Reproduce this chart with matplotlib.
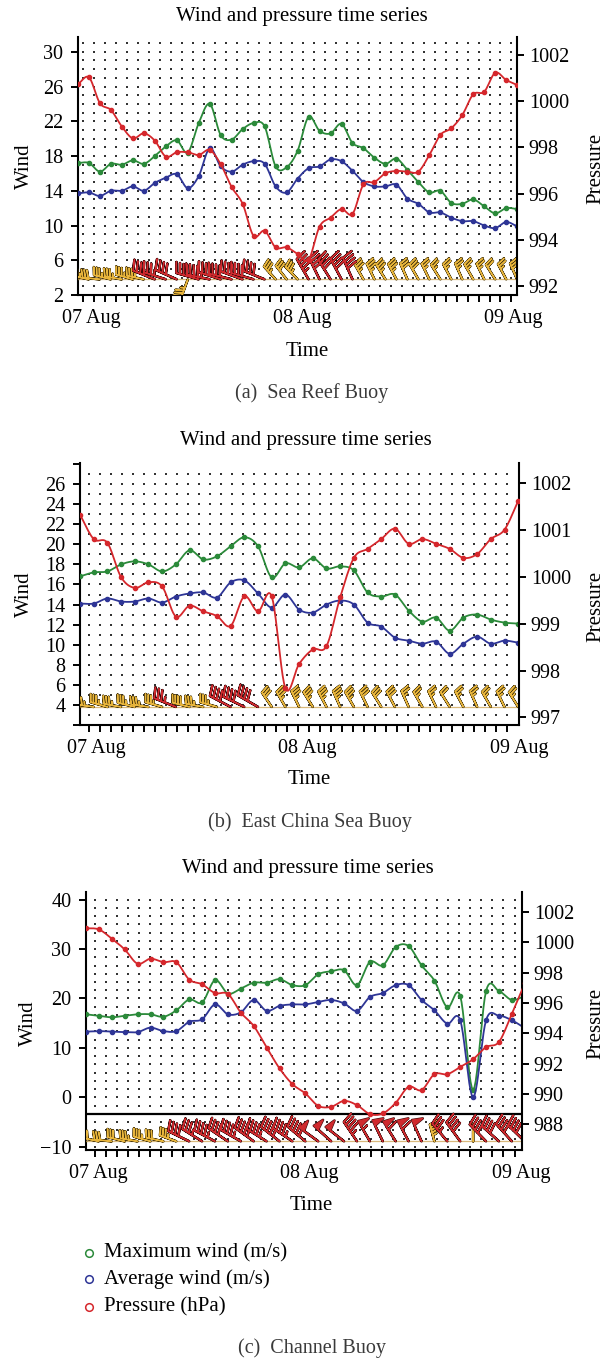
import numpy as np
import matplotlib.pyplot as plt
from matplotlib.lines import Line2D

plt.rcParams['font.family'] = ['Liberation Serif', 'DejaVu Serif']

W, H = 612, 1361
GREEN, BLUE, RED = '#2b8a3a', '#2e3596', '#d5272c'
GOLD, GOLD_EDGE = '#e8b53c', '#4d3a0c'
HOT, HOT_EDGE = '#cf2a2e', '#3f0a0a'

# ---------------- (a) Sea Reef Buoy ----------------
a_max = [17.2, 17.2, 16.2, 17.1, 17.0, 17.5, 17.1, 18.0, 19.1, 19.8, 18.4,
         21.8, 24.0, 20.4, 19.9, 21.1, 21.8, 21.4, 16.8, 16.7, 18.6, 22.5,
         20.9, 20.6, 21.7, 19.5, 18.9, 17.8, 17.1, 17.7, 16.4, 15.0, 13.8,
         14.0, 12.6, 12.5, 13.0, 12.2, 11.4, 12.0, 11.9]
a_avg = [13.7, 13.8, 13.4, 14.0, 14.0, 14.5, 14.0, 14.9, 15.5, 15.9, 14.3,
         15.7, 18.9, 16.8, 16.2, 17.0, 17.4, 17.1, 14.5, 13.8, 15.4, 16.6,
         16.8, 17.6, 17.4, 16.3, 15.0, 14.5, 14.5, 14.7, 13.1, 12.5, 11.5,
         11.5, 10.9, 10.5, 10.5, 10.0, 9.7, 10.4, 9.9]
a_pres = [1000.74, 1001.03, 999.91, 999.62, 998.90, 998.39, 998.61, 998.29,
          997.60, 997.79, 997.79, 997.67, 997.89, 997.27, 996.28, 995.55,
          994.16, 994.39, 993.67, 993.67, 993.39, 993.13, 994.57, 994.96,
          995.33, 995.12, 996.40, 996.50, 996.88, 996.98, 996.95, 996.95,
          997.67, 998.54, 998.83, 999.40, 1000.30, 1000.41, 1001.23, 1000.92,
          1000.70]
a_dir = [278, 282, 276, 284, 280, 286, 282, 292, 288, 294, 200,
         286, 282, 288, 284, 290, 286, 292, 318, 322, 316, 330,
         334, 328, 332, 336, 330, 334, 328, 332, 336, 330, 334,
         328, 332, 336, 330, 334, 328, 332, 336]
a_hot = [0, 0, 0, 0, 0, 0, 0, 1, 1, 1, 0,
         1, 1, 1, 1, 1, 1, 1, 0, 0, 0, 1,
         1, 1, 1, 1, 0, 0, 0, 0, 0, 0, 0,
         0, 0, 0, 0, 0, 0, 0, 0]

# ---------------- (b) East China Sea Buoy ----------------
b_max = [16.8, 17.2, 17.3, 18.0, 18.3, 18.0, 17.3, 18.0, 19.4, 18.5, 18.8,
         19.8, 20.7, 19.8, 16.7, 18.1, 17.7, 18.6, 17.6, 17.8, 17.4, 15.2,
         14.8, 15.0, 13.4, 12.3, 12.7, 11.4, 12.7, 13.0, 12.5, 12.2, 12.1]
b_avg = [14.1, 14.1, 14.6, 14.3, 14.3, 14.6, 14.2, 14.8, 15.1, 15.2, 14.7,
         16.2, 16.4, 15.1, 13.7, 15.0, 13.5, 13.2, 14.0, 14.4, 14.0, 12.2,
         11.8, 10.7, 10.4, 10.1, 10.3, 9.1, 10.1, 10.8, 10.1, 10.4, 10.2]
b_pres = [1001.32, 1000.80, 1000.72, 999.99, 999.76, 999.88, 999.79, 999.15,
          999.38, 999.26, 999.16, 998.95, 999.58, 999.26, 999.58, 997.62,
          998.14, 998.45, 998.52, 999.56, 1000.40, 1000.59, 1000.80, 1001.02,
          1000.70, 1000.80, 1000.70, 1000.59, 1000.40, 1000.48, 1000.80,
          1001.00, 1001.61]
b_dir = [282, 278, 286, 280, 284, 278, 286, 292, 284, 280, 286,
         298, 296, 300, 326, 330, 334, 328, 332, 336, 330, 334,
         328, 332, 336, 330, 334, 328, 332, 336, 330, 334, 328]
b_hot = [0, 0, 0, 0, 0, 0, 0, 1, 0, 0, 0,
         1, 1, 1, 0, 0, 0, 0, 0, 0, 0, 0,
         0, 0, 0, 0, 0, 0, 0, 0, 0, 0, 0]

# ---------------- (c) Channel Buoy ----------------
c_max = [16.8, 16.5, 16.2, 16.5, 16.8, 16.8, 16.3, 17.6, 19.8, 19.2, 23.7,
         21.0, 22.0, 23.2, 23.2, 23.9, 22.7, 22.7, 24.9, 25.5, 25.7, 22.7,
         27.4, 26.7, 30.4, 30.6, 26.7, 23.6, 18.2, 20.5, 1.5, 21.5, 21.5,
         19.7, 20.5]
c_avg = [13.3, 13.4, 13.3, 13.2, 13.2, 14.1, 13.4, 13.4, 15.3, 15.8, 18.8,
         16.8, 17.2, 19.7, 17.5, 18.5, 18.8, 18.8, 19.3, 19.7, 19.0, 17.5,
         20.3, 21.1, 22.7, 22.7, 19.7, 17.6, 14.9, 15.6, 0.0, 15.6, 16.5,
         15.6, 14.0]
c_pres = [1000.94, 1000.86, 1000.25, 999.54, 998.60, 998.93, 998.70, 998.70,
          997.55, 997.24, 996.66, 996.60, 995.37, 994.49, 993.07, 991.69,
          990.65, 990.04, 989.22, 989.16, 989.55, 989.27, 988.68, 988.72,
          989.42, 990.48, 990.26, 991.31, 991.31, 991.79, 992.30, 993.10,
          993.44, 995.30, 997.30]
c_dir = [278, 282, 276, 284, 280, 286, 282, 290, 296, 302, 298,
         304, 300, 306, 302, 308, 304, 310, 306, 312, 308, 326,
         330, 334, 328, 332, 336, 345, 320, 324, 0, 316, 312,
         318, 314]
c_hot = [0, 0, 0, 0, 0, 0, 0, 0, 1, 1, 1,
         1, 1, 1, 1, 1, 1, 1, 1, 1, 1, 1,
         1, 1, 1, 1, 1, 0, 1, 1, 0, 1, 1,
         1, 1]

day_labels = ['07 Aug', '08 Aug', '09 Aug']
day_hours = [0, 24, 48]
legend_labels = ['Maximum wind (m/s)', 'Average wind (m/s)', 'Pressure (hPa)']


def smooth(t, y, k=10):
    # Catmull-Rom curve through the observations
    t = np.asarray(t, float)
    y = np.asarray(y, float)
    yp = np.r_[2 * y[0] - y[1], y, 2 * y[-1] - y[-2]]
    s = np.linspace(0, 1, k, endpoint=False)
    xs, ys = [], []
    for i in range(1, len(t)):
        p0, p1, p2, p3 = yp[i - 1], yp[i], yp[i + 1], yp[i + 2]
        ys.append(0.5 * (2 * p1 + (-p0 + p2) * s
                         + (2 * p0 - 5 * p1 + 4 * p2 - p3) * s ** 2
                         + (-p0 + 3 * p1 - 3 * p2 + p3) * s ** 3))
        xs.append(t[i - 1] + (t[i] - t[i - 1]) * s)
    xs.append([t[-1]])
    ys.append([y[-1]])
    return np.concatenate(xs), np.concatenate(ys)


def box(l, t, r, b):
    return [l / W, 1 - b / H, (r - l) / W, (b - t) / H]


def draw_barbs(ax, t, level, speed, dirs, hot):
    t = np.asarray(t, float)
    kt = np.asarray(speed, float) * 1.944
    d = np.deg2rad(dirs)
    u, v = -kt * np.sin(d), -kt * np.cos(d)
    y = np.full_like(t, level)
    hot = np.asarray(hot, bool)
    for mask, face, edge, ln in ((~hot, GOLD, GOLD_EDGE, 5.0),
                                 (hot, HOT, HOT_EDGE, 5.8)):
        for lw, col in ((1.8, edge), (0.9, face)):
            ax.barbs(t[mask], y[mask], u[mask], v[mask], length=ln,
                     color=col, linewidth=lw, zorder=3,
                     sizes=dict(spacing=0.16, height=0.45, emptybarb=0.1))


panels = [
    dict(t=-1.56 + 1.25 * np.arange(len(a_max)), mx=a_max, av=a_avg, pr=a_pres,
         dirs=a_dir, hot=a_hot, rect=(78, 37, 517, 295),
         xlim=(-1.56, 48.42), ylim=(2, 31.7), plim=(991.61, 1002.78),
         yticks=np.arange(2, 31, 4), ylabels=None,
         pticks=np.arange(992, 1003, 2), rows=np.arange(3, 32, 1.0),
         minor=-0.96 + 1.25 * np.arange(40), level=3.8, divider=None,
         title_y=17, title_x=302, time=(307, 352), wind_xy=(24, 166),
         pres_xy=(596, 168), caption=('(a)  Sea Reef Buoy', 312, 393)),
    dict(t=-1.85 + 1.555 * np.arange(len(b_max)), mx=b_max, av=b_avg, pr=b_pres,
         dirs=b_dir, hot=b_hot, rect=(80, 463, 519, 725),
         xlim=(-1.85, 47.99), ylim=(2, 28.1), plim=(996.84, 1002.42),
         yticks=np.arange(2, 29, 2),
         ylabels=[''] + [str(v) for v in range(4, 27, 2)] + [''],
         pticks=np.arange(997, 1003, 1), rows=np.arange(3, 28, 1.0),
         minor=-0.83 + 1.25 * np.arange(39), level=3.8, divider=None,
         title_y=441, title_x=306, time=(309, 780), wind_xy=(24, 594),
         pres_xy=(596, 606), caption=('(b)  East China Sea Buoy', 310, 822)),
    dict(t=-1.39 + 1.466 * np.arange(len(c_max)), mx=c_max, av=c_avg, pr=c_pres,
         dirs=c_dir, hot=c_hot, rect=(86, 892, 522, 1150),
         xlim=(-1.39, 48.14), ylim=(-10.65, 41.54), plim=(986.31, 1003.33),
         yticks=np.arange(-10, 41, 10), ylabels=None,
         pticks=np.arange(988, 1003, 2), rows=40 - 5 / 3 * np.arange(-1, 31),
         minor=-0.36 + 1.254 * np.arange(39), level=-8.9, divider=-3.45,
         title_y=869, title_x=308, time=(311, 1205), wind_xy=(28, 1023),
         pres_xy=(596, 1023), caption=('(c)  Channel Buoy', 312, 1348)),
]

fig = plt.figure(figsize=(W / 100, H / 100), dpi=100)

for p in panels:
    ax = fig.add_axes(box(*p['rect']))
    ax2 = ax.twinx()

    # dotted background lattice
    gx, gy = np.meshgrid(p['minor'], p['rows'])
    ax.scatter(gx.ravel(), gy.ravel(), s=0.6, marker='s', c='#333333',
               linewidths=0, zorder=0)

    ax.axhline(p['level'], color='#d9b97c', lw=0.9, zorder=2)
    if p['divider'] is not None:
        ax.axhline(p['divider'], color='black', lw=1.6, zorder=2)
    draw_barbs(ax, p['t'], p['level'], p['mx'], p['dirs'], p['hot'])

    for series, col in ((p['mx'], GREEN), (p['av'], BLUE)):
        sx, sy = smooth(p['t'], series)
        ax.plot(sx, sy, color=col, lw=1.3, zorder=4)
        ax.plot(p['t'], series, 'o', color=col, ms=3, zorder=4)
    sx, sy = smooth(p['t'], p['pr'])
    ax2.plot(sx, sy, color=RED, lw=1.3, zorder=4)
    ax2.plot(p['t'], p['pr'], 'o', color=RED, ms=3, zorder=4)

    ax.set_xlim(*p['xlim'])
    ax.set_ylim(*p['ylim'])
    ax2.set_ylim(*p['plim'])

    ax.set_xticks(day_hours)
    ax.set_xticklabels(day_labels)
    ax.set_xticks(p['minor'], minor=True)
    ax.set_yticks(p['yticks'])
    if p['ylabels'] is not None:
        ax.set_yticklabels(p['ylabels'])
    ax2.set_yticks(p['pticks'])

    ax.tick_params(axis='x', which='major', length=0, pad=10, labelsize=14.5)
    ax.tick_params(axis='x', which='minor', length=5, width=1.4,
                   direction='out')
    ax.tick_params(axis='y', length=5, width=1.4, pad=5.5, labelsize=14.5)
    ax2.tick_params(axis='y', length=5, width=1.4, pad=3.5, labelsize=14.5)

    for name in ('top', 'right'):
        ax.spines[name].set_visible(False)
    for name in ('top', 'left', 'bottom'):
        ax2.spines[name].set_visible(False)
    for sp in (ax.spines['left'], ax.spines['bottom'], ax2.spines['right']):
        sp.set_linewidth(1.5)

    fig.text(p['title_x'] / W, 1 - p['title_y'] / H,
             'Wind and pressure time series', ha='center', va='center',
             fontsize=15)
    fig.text(p['time'][0] / W, 1 - p['time'][1] / H, 'Time', ha='center',
             va='center', fontsize=15)
    fig.text(p['wind_xy'][0] / W, 1 - p['wind_xy'][1] / H, 'Wind',
             rotation=90, ha='center', va='center', fontsize=15)
    fig.text(p['pres_xy'][0] / W, 1 - p['pres_xy'][1] / H, 'Pressure',
             rotation=90, ha='center', va='center', fontsize=15)
    cap, cx, cy = p['caption']
    fig.text(cx / W, 1 - cy / H, cap, ha='center', va='center', fontsize=14.5,
             color='#3a3a3a')

# legend below the last panel
for label, col, y in zip(legend_labels, (GREEN, BLUE, RED), (1253, 1279, 1307)):
    fig.add_artist(Line2D([89 / W], [1 - y / H], marker='o', ms=5.5, mew=1.1,
                          mfc='none', mec=col, transform=fig.transFigure))
    fig.text(104 / W, 1 - y / H, label, ha='left', va='center', fontsize=15)

fig.savefig('out.png', dpi=100)
